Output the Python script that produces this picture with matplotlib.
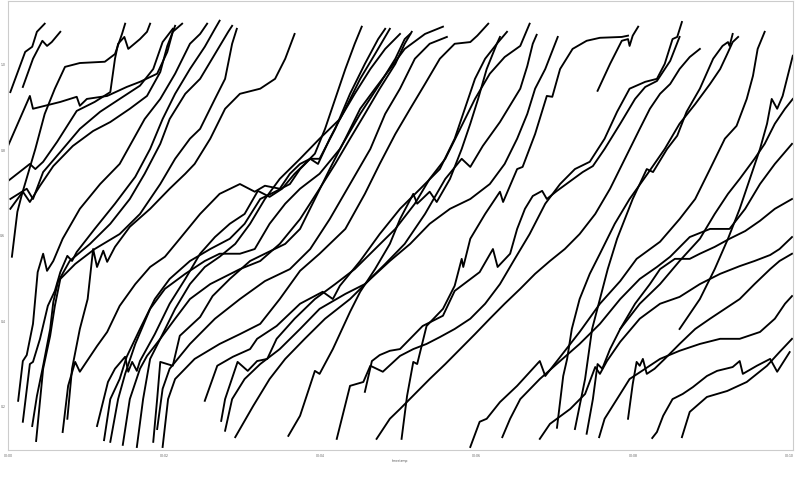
import matplotlib
matplotlib.use("Agg")
import matplotlib.pyplot as plt

# minutes since start (x) and measured value (y), one pair per trace
t01_x = [0.03, 0.22, 0.31, 0.37, 0.47]
t01_y = [0.934, 1.028, 1.040, 1.075, 1.094]
t02_x = [0.19, 0.32, 0.44, 0.50, 0.56, 0.67]
t02_y = [0.946, 1.012, 1.054, 1.042, 1.051, 1.075]
t03_x = [0.00, 0.28, 0.32, 0.67, 0.88, 0.92, 1.01, 1.27, 1.52, 1.69, 1.91, 2.04, 2.11, 2.23]
t03_y = [0.808, 0.925, 0.895, 0.911, 0.923, 0.902, 0.918, 0.925, 0.946, 0.958, 0.977, 1.028, 1.075, 1.094]
t04_x = [0.00, 0.28, 0.35, 0.45, 0.63, 0.88, 1.11, 1.31, 1.37, 1.41, 1.49, 1.54, 1.69, 1.78, 1.82]
t04_y = [0.726, 0.766, 0.754, 0.771, 0.818, 0.890, 0.911, 0.934, 1.012, 1.047, 1.063, 1.035, 1.058, 1.075, 1.094]
t05_x = [0.03, 0.24, 0.32, 0.45, 0.67, 0.92, 1.18, 1.43, 1.69, 1.86, 1.98, 2.11]
t05_y = [0.684, 0.708, 0.684, 0.747, 0.794, 0.848, 0.888, 0.918, 0.949, 0.988, 1.051, 1.082]
t06_x = [0.03, 0.19, 0.28, 0.41, 0.58, 0.83, 1.09, 1.31, 1.56, 1.78, 1.95, 2.04, 2.14]
t06_y = [0.661, 0.701, 0.677, 0.715, 0.761, 0.808, 0.843, 0.864, 0.895, 0.925, 0.981, 1.042, 1.089]
t07_x = [0.05, 0.12, 0.18, 0.35, 0.47, 0.60, 0.73, 0.92, 1.24, 1.37, 1.46, 1.50]
t07_y = [0.549, 0.654, 0.696, 0.801, 0.883, 0.942, 0.993, 1.002, 1.005, 1.023, 1.070, 1.094]
t08_x = [0.13, 0.19, 0.24, 0.32, 0.38, 0.45, 0.50, 0.58, 0.70, 0.92, 1.18, 1.43, 1.75, 1.95, 2.14, 2.33, 2.46, 2.55]
t08_y = [0.212, 0.305, 0.319, 0.392, 0.513, 0.556, 0.516, 0.539, 0.591, 0.661, 0.719, 0.766, 0.871, 0.918, 0.977, 1.047, 1.070, 1.094]
t09_x = [0.19, 0.28, 0.32, 0.41, 0.51, 0.60, 0.67, 0.76, 0.82, 0.88, 1.11, 1.37, 1.63, 1.82, 1.98, 2.14, 2.33, 2.52, 2.65, 2.71]
t09_y = [0.163, 0.298, 0.303, 0.357, 0.434, 0.469, 0.513, 0.551, 0.539, 0.560, 0.614, 0.673, 0.736, 0.801, 0.871, 0.930, 0.988, 1.040, 1.082, 1.101]
t10_x = [0.31, 0.37, 0.45, 0.54, 0.58, 0.64, 0.79, 1.05, 1.31, 1.56, 1.75, 1.95, 2.07, 2.27, 2.46, 2.65, 2.82, 2.87]
t10_y = [0.153, 0.223, 0.294, 0.380, 0.443, 0.490, 0.539, 0.579, 0.626, 0.684, 0.743, 0.813, 0.871, 0.930, 0.965, 1.023, 1.075, 1.089]
t11_x = [0.36, 0.45, 0.54, 0.60, 0.67, 0.86, 1.11, 1.43, 1.69, 1.95, 2.14, 2.33, 2.46, 2.65, 2.78, 2.87, 2.93]
t11_y = [0.118, 0.287, 0.364, 0.434, 0.497, 0.532, 0.567, 0.602, 0.649, 0.719, 0.778, 0.825, 0.848, 0.918, 0.965, 1.047, 1.082]
t12_x = [0.70, 0.77, 0.86, 0.92, 1.14, 1.27, 1.43, 1.63, 1.82, 2.01, 2.20, 2.46, 2.71, 2.97, 3.16, 3.29, 3.48,
         3.61, 3.74, 3.87, 3.97, 4.12, 4.32, 4.51, 4.70, 4.89]
t12_y = [0.139, 0.247, 0.303, 0.280, 0.340, 0.373, 0.434, 0.485, 0.525, 0.549, 0.591, 0.649, 0.696, 0.719, 0.701,
         0.715, 0.708, 0.743, 0.766, 0.778, 0.766, 0.825, 0.895, 0.965, 1.023, 1.082]
t13_x = [0.76, 0.82, 0.92, 1.02, 1.09, 1.14, 1.22, 1.27, 1.37, 1.56, 1.82, 2.07, 2.27, 2.39, 2.59, 2.78, 2.97,
         3.23, 3.42, 3.55, 3.67]
t13_y = [0.170, 0.287, 0.380, 0.450, 0.567, 0.525, 0.563, 0.537, 0.572, 0.619, 0.661, 0.708, 0.743, 0.766, 0.825,
         0.895, 0.930, 0.942, 0.965, 1.012, 1.070]
t14_x = [1.14, 1.28, 1.37, 1.50, 1.54, 1.59, 1.65, 1.69, 1.88, 2.07, 2.27, 2.46, 2.65, 2.84, 3.03, 3.20, 3.35,
         3.51, 3.67, 3.80, 3.93, 4.06, 4.19, 4.32, 4.44, 4.53]
t14_y = [0.153, 0.256, 0.287, 0.315, 0.280, 0.303, 0.282, 0.305, 0.368, 0.439, 0.497, 0.556, 0.595, 0.626, 0.649,
         0.703, 0.689, 0.708, 0.743, 0.766, 0.790, 0.848, 0.918, 0.988, 1.047, 1.087]
t15_x = [1.23, 1.31, 1.43, 1.52, 1.69, 1.88, 2.07, 2.33, 2.59, 2.84, 3.03, 3.23, 3.42, 3.61, 3.74, 3.87, 3.99,
         4.19, 4.38, 4.57, 4.74, 4.83]
t15_y = [0.120, 0.216, 0.263, 0.315, 0.380, 0.450, 0.497, 0.539, 0.567, 0.591, 0.626, 0.684, 0.701, 0.719, 0.754,
         0.778, 0.778, 0.848, 0.930, 1.000, 1.058, 1.082]
t16_x = [1.31, 1.41, 1.50, 1.63, 1.82, 2.01, 2.27, 2.52, 2.71, 2.97, 3.16, 3.35, 3.55, 3.74, 3.99, 4.25, 4.51,
         4.76, 4.96, 5.08, 5.15]
t16_y = [0.116, 0.216, 0.275, 0.345, 0.427, 0.474, 0.509, 0.539, 0.556, 0.556, 0.567, 0.626, 0.673, 0.708, 0.743,
         0.801, 0.883, 0.953, 1.012, 1.058, 1.070]
t17_x = [1.47, 1.56, 1.69, 1.78, 1.95, 2.14, 2.33, 2.52, 2.71, 2.91, 3.10, 3.29, 3.48, 3.74, 3.99, 4.25, 4.44,
         4.64, 4.83, 5.02]
t17_y = [0.109, 0.216, 0.287, 0.317, 0.357, 0.427, 0.485, 0.525, 0.549, 0.579, 0.626, 0.684, 0.731, 0.778, 0.825,
         0.871, 0.930, 0.988, 1.035, 1.070]
t18_x = [1.65, 1.73, 1.82, 1.95, 2.14, 2.33, 2.59, 2.97, 3.23, 3.48, 3.74, 3.99, 4.19, 4.38, 4.57, 4.76, 4.96,
         5.08, 5.17]
t18_y = [0.104, 0.216, 0.310, 0.357, 0.404, 0.450, 0.485, 0.520, 0.539, 0.579, 0.637, 0.708, 0.766, 0.825, 0.883,
         0.942, 1.000, 1.047, 1.075]
t19_x = [1.86, 1.91, 1.95, 2.11, 2.20, 2.46, 2.62, 2.84, 3.10, 3.29, 3.55, 3.74, 3.93, 4.12, 4.32, 4.51, 4.70,
         4.89, 5.08, 5.34, 5.57]
t19_y = [0.116, 0.216, 0.303, 0.294, 0.364, 0.408, 0.457, 0.497, 0.539, 0.556, 0.579, 0.614, 0.684, 0.754, 0.825,
         0.895, 0.942, 0.988, 1.035, 1.070, 1.087]
t20_x = [1.91, 1.98, 2.07, 2.33, 2.65, 2.97, 3.29, 3.61, 3.87, 4.12, 4.38, 4.64, 4.83, 5.02, 5.21, 5.40, 5.62]
t20_y = [0.146, 0.240, 0.287, 0.345, 0.404, 0.450, 0.492, 0.520, 0.567, 0.637, 0.719, 0.801, 0.883, 0.942, 1.012,
         1.047, 1.063]
t21_x = [1.98, 2.05, 2.14, 2.39, 2.71, 2.97, 3.23, 3.48, 3.74, 3.99, 4.32, 4.57, 4.76, 4.96, 5.15, 5.34, 5.53,
         5.72, 5.92, 6.01, 6.15]
t21_y = [0.104, 0.216, 0.263, 0.310, 0.345, 0.368, 0.392, 0.450, 0.516, 0.556, 0.614, 0.696, 0.766, 0.836, 0.895,
         0.953, 1.012, 1.047, 1.051, 1.066, 1.094]
t22_x = [2.52, 2.68, 2.88, 3.10, 3.19, 3.44, 3.74, 4.03, 4.16, 4.25, 4.51, 4.76, 5.02, 5.28, 5.53, 5.72, 5.85,
         5.98, 6.11, 6.26, 6.39]
t22_y = [0.212, 0.294, 0.315, 0.333, 0.357, 0.387, 0.439, 0.467, 0.450, 0.481, 0.539, 0.602, 0.661, 0.708, 0.754,
         0.825, 0.895, 0.965, 1.012, 1.047, 1.075]
t23_x = [2.73, 2.78, 2.94, 3.07, 3.19, 3.32, 3.44, 3.67, 3.93, 4.19, 4.44, 4.70, 4.96, 5.21, 5.40, 5.60, 5.79,
         5.98, 6.17, 6.36, 6.56, 6.68]
t23_y = [0.165, 0.216, 0.303, 0.282, 0.305, 0.310, 0.357, 0.404, 0.450, 0.485, 0.520, 0.567, 0.614, 0.673, 0.731,
         0.778, 0.848, 0.918, 0.977, 1.016, 1.042, 1.094]
t24_x = [2.78, 2.87, 3.03, 3.23, 3.48, 3.74, 3.99, 4.32, 4.57, 4.83, 5.08, 5.34, 5.60, 5.81, 5.92, 6.08, 6.30,
         6.56, 6.65, 6.72, 6.77]
t24_y = [0.142, 0.216, 0.263, 0.298, 0.333, 0.380, 0.427, 0.462, 0.485, 0.532, 0.579, 0.649, 0.731, 0.778, 0.759,
         0.808, 0.864, 0.942, 0.995, 1.047, 1.068]
t25_x = [2.91, 3.14, 3.35, 3.55, 3.80, 4.06, 4.38, 4.64, 4.89, 5.15, 5.40, 5.66, 5.92, 6.17, 6.36, 6.52, 6.65,
         6.75, 6.88, 7.04]
t25_y = [0.127, 0.200, 0.263, 0.310, 0.357, 0.404, 0.450, 0.497, 0.539, 0.579, 0.626, 0.661, 0.684, 0.719, 0.766,
         0.825, 0.883, 0.942, 0.988, 1.063]
t26_x = [3.59, 3.74, 3.93, 3.99, 4.16, 4.38, 4.51, 4.70, 4.89, 5.02, 5.19, 5.24, 5.40, 5.49, 5.66, 5.81, 5.92,
         6.02, 6.13, 6.26, 6.30]
t26_y = [0.130, 0.177, 0.282, 0.275, 0.333, 0.420, 0.467, 0.520, 0.579, 0.637, 0.696, 0.673, 0.701, 0.677, 0.731,
         0.801, 0.860, 0.918, 0.988, 1.047, 1.063]
t27_x = [4.21, 4.38, 4.55, 4.64, 4.80, 5.02, 5.19, 5.36, 5.53, 5.72, 5.92, 6.11, 6.30, 6.49, 6.68, 6.88, 7.07,
         7.26, 7.45, 7.64, 7.80, 7.96, 8.16, 8.31, 8.41, 8.51, 8.57, 8.63]
t27_y = [0.123, 0.247, 0.256, 0.294, 0.280, 0.317, 0.333, 0.345, 0.361, 0.380, 0.404, 0.439, 0.485, 0.544, 0.602,
         0.673, 0.719, 0.754, 0.771, 0.825, 0.888, 0.942, 0.958, 0.965, 1.000, 1.058, 1.063, 1.098]
t28_x = [4.57, 4.66, 4.76, 4.89, 5.02, 5.31, 5.57, 5.72, 6.04, 6.21, 6.27, 6.43, 6.52, 6.62, 6.72, 6.84, 6.90,
         7.03, 7.36, 7.49, 7.64, 7.84, 8.03, 8.16, 8.31, 8.48, 8.60]
t28_y = [0.233, 0.305, 0.319, 0.329, 0.333, 0.387, 0.411, 0.469, 0.513, 0.567, 0.525, 0.556, 0.614, 0.661, 0.691,
         0.703, 0.684, 0.703, 0.747, 0.761, 0.801, 0.860, 0.918, 0.946, 0.960, 1.007, 1.063]
t29_x = [4.72, 4.89, 5.02, 5.21, 5.40, 5.60, 5.79, 5.98, 6.17, 6.36, 6.56, 6.75, 6.94, 7.13, 7.32, 7.52, 7.71,
         7.90, 8.09, 8.22, 8.35, 8.48, 8.60, 8.73, 8.86]
t29_y = [0.123, 0.170, 0.193, 0.228, 0.263, 0.298, 0.333, 0.368, 0.404, 0.439, 0.474, 0.509, 0.539, 0.567, 0.602,
         0.649, 0.708, 0.778, 0.848, 0.895, 0.930, 0.953, 0.988, 1.016, 1.035]
t30_x = [5.04, 5.11, 5.19, 5.24, 5.36, 5.57, 5.72, 5.81, 5.83, 5.92, 6.11, 6.30, 6.34, 6.52, 6.59, 6.75, 6.90,
         6.97, 7.07, 7.23, 7.41, 7.58, 7.86, 7.94]
t30_y = [0.123, 0.223, 0.303, 0.298, 0.387, 0.427, 0.481, 0.544, 0.525, 0.591, 0.649, 0.701, 0.677, 0.754, 0.759,
         0.836, 0.925, 0.923, 0.988, 1.035, 1.054, 1.061, 1.063, 1.066]
t31_x = [7.55, 7.71, 7.86, 7.94, 7.96, 8.00, 8.07]
t31_y = [0.937, 1.000, 1.054, 1.058, 1.042, 1.066, 1.087]
t32_x = [5.92, 6.04, 6.13, 6.30, 6.52, 6.81, 6.88, 7.03, 7.32, 7.58, 7.84, 8.05, 8.35, 8.60, 8.80, 8.99, 9.18,
         9.33, 9.46, 9.54, 9.60, 9.69]
t32_y = [0.104, 0.163, 0.170, 0.209, 0.247, 0.305, 0.270, 0.305, 0.373, 0.439, 0.492, 0.544, 0.584, 0.637, 0.684,
         0.754, 0.825, 0.855, 0.918, 0.972, 1.035, 1.075]
t33_x = [6.33, 6.43, 6.56, 6.81, 7.07, 7.32, 7.58, 7.84, 8.09, 8.31, 8.48, 8.73, 8.99, 9.24, 9.44, 9.63, 9.82, 10.04]
t33_y = [0.127, 0.170, 0.216, 0.263, 0.305, 0.345, 0.392, 0.450, 0.497, 0.525, 0.549, 0.595, 0.614, 0.614, 0.661,
         0.719, 0.766, 0.813]
t34_x = [6.81, 6.94, 7.20, 7.39, 7.52, 7.58, 7.67, 7.84, 8.09, 8.35, 8.60, 8.86, 9.12, 9.37, 9.56, 9.76, 9.88, 10.04]
t34_y = [0.123, 0.158, 0.193, 0.228, 0.291, 0.275, 0.305, 0.350, 0.404, 0.439, 0.455, 0.485, 0.509, 0.527, 0.539,
         0.553, 0.567, 0.595]
t35_x = [7.03, 7.11, 7.16, 7.22, 7.32, 7.45, 7.58, 7.77, 7.96, 8.19, 8.41, 8.60, 8.80, 8.99, 9.12, 9.21, 9.28, 9.35]
t35_y = [0.149, 0.270, 0.310, 0.380, 0.450, 0.509, 0.556, 0.626, 0.684, 0.743, 0.801, 0.860, 0.906, 0.953, 0.988,
         1.023, 1.051, 1.063]
t36_x = [7.41, 7.49, 7.55, 7.61, 7.71, 7.84, 8.03, 8.22, 8.35, 8.54, 8.73, 8.86, 9.05, 9.24, 9.44, 9.63, 9.82, 10.04]
t36_y = [0.135, 0.216, 0.298, 0.287, 0.333, 0.380, 0.439, 0.485, 0.520, 0.544, 0.544, 0.556, 0.572, 0.591, 0.609,
         0.633, 0.661, 0.684]
t37_x = [7.57, 7.64, 7.84, 7.96, 8.16, 8.35, 8.60, 8.86, 9.12, 9.37, 9.63, 9.82, 9.95, 10.04]
t37_y = [0.127, 0.170, 0.228, 0.263, 0.287, 0.310, 0.329, 0.345, 0.357, 0.357, 0.373, 0.404, 0.439, 0.457]
t38_x = [7.94, 8.00, 8.05, 8.09, 8.13, 8.18, 8.28, 8.41, 8.60, 8.80, 8.99, 9.18, 9.37, 9.56, 9.76, 9.88, 10.04]
t38_y = [0.170, 0.251, 0.303, 0.294, 0.310, 0.275, 0.287, 0.310, 0.345, 0.380, 0.404, 0.427, 0.450, 0.485, 0.520,
         0.539, 0.556]
t39_x = [8.25, 8.31, 8.39, 8.51, 8.64, 8.77, 8.95, 9.08, 9.28, 9.37, 9.41, 9.59, 9.76, 9.85, 10.01]
t39_y = [0.125, 0.139, 0.177, 0.216, 0.228, 0.244, 0.270, 0.282, 0.291, 0.305, 0.275, 0.294, 0.310, 0.280, 0.326]
t40_x = [8.63, 8.73, 8.95, 9.21, 9.46, 9.72, 9.88, 10.04]
t40_y = [0.127, 0.186, 0.221, 0.235, 0.256, 0.294, 0.326, 0.357]
t41_x = [7.26, 7.39, 7.48, 7.58, 7.68, 7.80, 8.00, 8.18, 8.26, 8.44, 8.57, 8.69, 8.86, 9.03, 9.15, 9.22, 9.24, 9.28]
t41_y = [0.146, 0.263, 0.380, 0.450, 0.520, 0.591, 0.684, 0.754, 0.747, 0.801, 0.832, 0.888, 0.942, 1.012, 1.042,
         1.051, 1.042, 1.070]
t42_x = [8.60, 8.86, 9.05, 9.22, 9.37, 9.50, 9.63, 9.72, 9.78, 9.85, 9.92, 10.05]
t42_y = [0.380, 0.450, 0.520, 0.591, 0.661, 0.731, 0.801, 0.860, 0.918, 0.895, 0.925, 1.019]
t43_x = [7.84, 8.09, 8.35, 8.60, 8.86, 9.05, 9.22, 9.37, 9.56, 9.69, 9.82, 9.95, 10.05]
t43_y = [0.380, 0.439, 0.485, 0.539, 0.591, 0.649, 0.696, 0.731, 0.778, 0.813, 0.860, 0.895, 0.918]

x_ticks = [0, 2, 4, 6, 8, 10]
x_tick_labels = ["00:00", "00:02", "00:04", "00:06", "00:08", "00:10"]
y_ticks = [0.2, 0.4, 0.6, 0.8, 1.0]

traces = [
    (t01_x, t01_y), (t02_x, t02_y), (t03_x, t03_y), (t04_x, t04_y), (t05_x, t05_y),
    (t06_x, t06_y), (t07_x, t07_y), (t08_x, t08_y), (t09_x, t09_y), (t10_x, t10_y),
    (t11_x, t11_y), (t12_x, t12_y), (t13_x, t13_y), (t14_x, t14_y), (t15_x, t15_y),
    (t16_x, t16_y), (t17_x, t17_y), (t18_x, t18_y), (t19_x, t19_y), (t20_x, t20_y),
    (t21_x, t21_y), (t22_x, t22_y), (t23_x, t23_y), (t24_x, t24_y), (t25_x, t25_y),
    (t26_x, t26_y), (t27_x, t27_y), (t28_x, t28_y), (t29_x, t29_y), (t30_x, t30_y),
    (t31_x, t31_y), (t32_x, t32_y), (t33_x, t33_y), (t34_x, t34_y), (t35_x, t35_y),
    (t36_x, t36_y), (t37_x, t37_y), (t38_x, t38_y), (t39_x, t39_y), (t40_x, t40_y),
    (t41_x, t41_y), (t42_x, t42_y), (t43_x, t43_y),
]

fig = plt.figure(figsize=(8, 4.81), dpi=100)
ax = fig.add_axes([0.01, 0.0624, 0.981, 0.9334])

for xs, ys in traces:
    ax.plot(xs, ys, color="black", linewidth=1.35)

ax.set_xlim(0, 10.05)
ax.set_ylim(0.097, 1.147)
ax.set_xticks(x_ticks)
ax.set_xticklabels(x_tick_labels)
ax.set_yticks(y_ticks)
ax.tick_params(labelsize=2.2, length=0, pad=2, colors="#555555")
ax.set_xlabel("timestamp", fontsize=2.2, labelpad=1, color="#555555")
for spine in ax.spines.values():
    spine.set_color("#cccccc")
    spine.set_linewidth(0.8)

fig.savefig("out.png", dpi=100)
